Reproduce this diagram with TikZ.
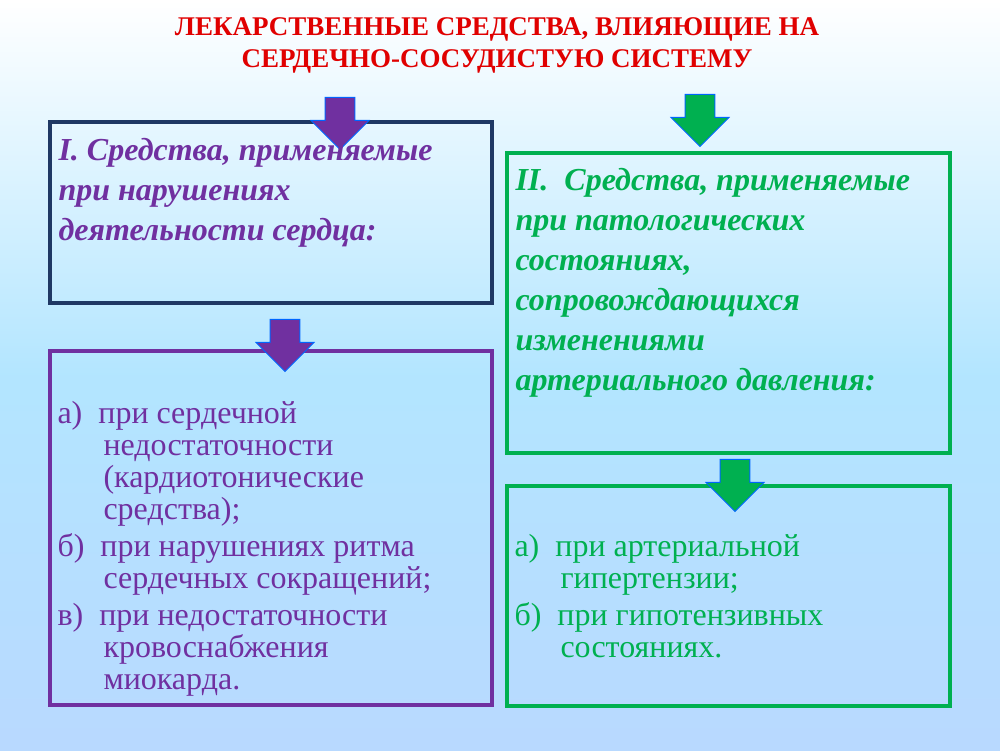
\documentclass[tikz,border=0pt]{standalone}
\usepackage{fontspec}
\setmainfont{Liberation Serif}
\usetikzlibrary{shapes.arrows}
\definecolor{pur}{HTML}{7030A0}
\definecolor{grn}{HTML}{00B050}
\definecolor{navy}{HTML}{1F3864}
\definecolor{ttl}{HTML}{E00000}
\tikzset{
 box/.style={draw,line width=3.5pt},
 darr/.style={single arrow,draw=blue!60!cyan,line width=1pt,shape border rotate=270,minimum height=52pt,minimum width=58pt,single arrow head extend=8pt,inner sep=8pt},
 hd/.style={anchor=north west,align=left,font=\fontsize{32}{40}\selectfont\bfseries\itshape},
 bd/.style={anchor=north west,align=left,font=\fontsize{32}{32}\selectfont},
}
\begin{document}
\begin{tikzpicture}[x=1pt,y=-1pt]
\shade[top color=white,bottom color=cyan!15!white!85!blue,middle color=cyan!22!white!90!blue] (0,0) rectangle (1000,750);
\useasboundingbox (0,0) rectangle (1000,750);
\node[font=\fontsize{27}{32}\selectfont\bfseries,text=ttl,align=center] (title) at (497,45) {ЛЕКАРСТВЕННЫЕ СРЕДСТВА, ВЛИЯЮЩИЕ НА\\СЕРДЕЧНО-СОСУДИСТУЮ СИСТЕМУ};
\draw[box,draw=navy] (50,122) rectangle (492,303);
\draw[box,draw=grn] (507,153) rectangle (950,453);
\draw[box,draw=pur] (50,351) rectangle (492,705);
\draw[box,draw=grn] (507,486) rectangle (950,706);
\node[darr,fill=pur] (a1) at (340,116) {};
\node[darr,fill=grn] (a2) at (700,113) {};
\node[darr,fill=pur] (a3) at (285,338) {};
\node[darr,fill=grn] (a4) at (735,478) {};
\node[hd,text=pur] (h1) at (55,135) {I. Средства, применяемые\\при нарушениях\\деятельности сердца:};
\node[hd,text=grn] (h2) at (512,165) {II.\ \ Средства, применяемые\\при патологических\\состояниях,\\сопровождающихся\\изменениями\\артериального давления:};
\node[bd,text=pur] (b1) at (54,398) {а)\ \ при сердечной\\\hspace*{46pt}недостаточности\\\hspace*{46pt}(кардиотонические\\\hspace*{46pt}средства);\\[5pt]б)\ \ при нарушениях ритма\\\hspace*{46pt}сердечных сокращений;\\[5pt]в)\ \ при недостаточности\\\hspace*{46pt}кровоснабжения\\\hspace*{46pt}миокарда.};
\node[bd,text=grn] (b2) at (511,531) {а)\ \ при артериальной\\\hspace*{46pt}гипертензии;\\[5pt]б)\ \ при гипотензивных\\\hspace*{46pt}состояниях.};
\end{tikzpicture}
\end{document}
